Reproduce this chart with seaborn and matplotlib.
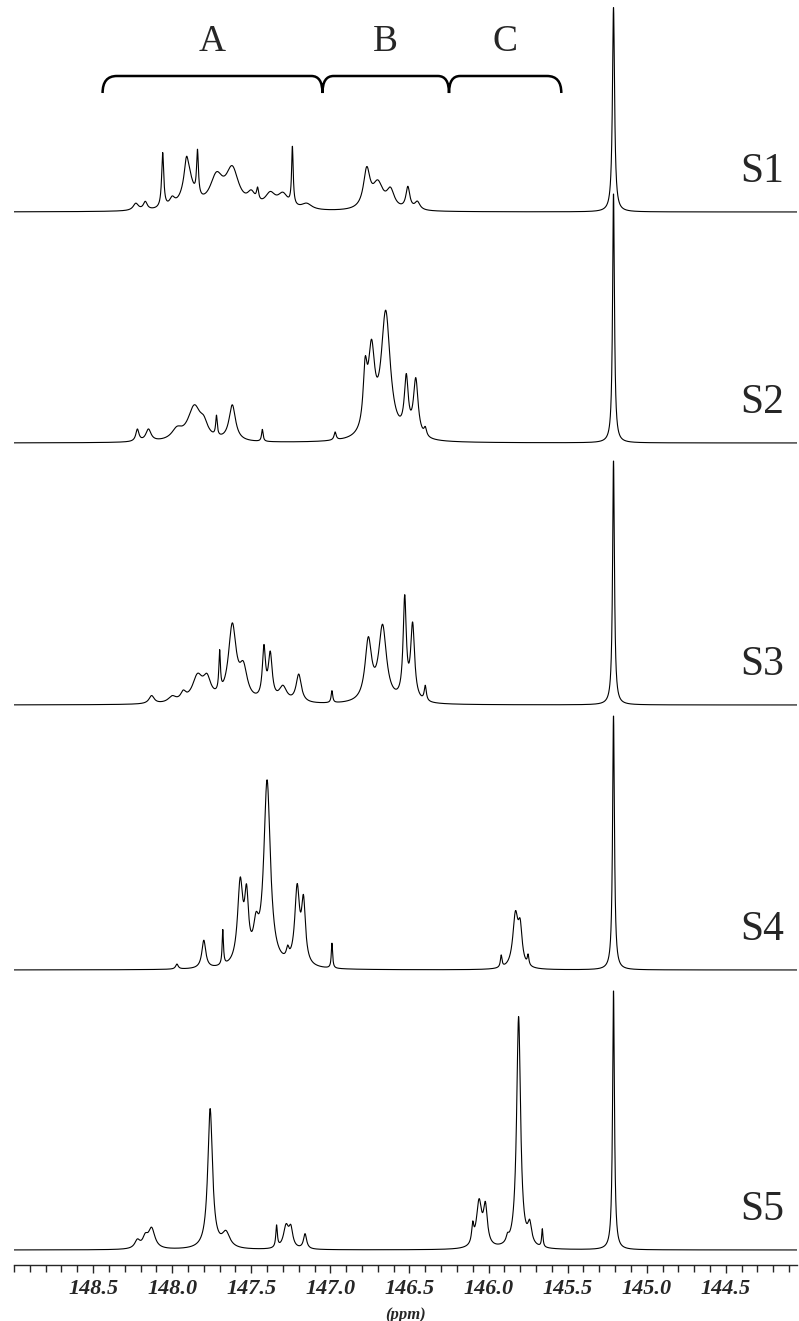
import numpy as np
import pandas as pd
import matplotlib
matplotlib.use("Agg")
import matplotlib.pyplot as plt
import seaborn as sns
from matplotlib.path import Path
from matplotlib.patches import PathPatch
from matplotlib.ticker import FixedLocator, MultipleLocator

# spectra: peaks (ppm, height in px, half width in ppm)
s1_ppm = [148.23, 148.17, 148.06, 148.00, 147.91, 147.90, 147.84, 147.72, 147.62, 147.50,
          147.46, 147.38, 147.30, 147.24, 147.15, 146.77, 146.70, 146.62, 146.51, 146.45, 145.21]
s1_h = [7, 8, 55, 8, 20, 33, 45, 30, 38, 12, 12, 14, 14, 58, 6, 38, 25, 18, 22, 8, 205]
s1_w = [0.02, 0.015, 0.008, 0.02, 0.015, 0.04, 0.007, 0.05, 0.05, 0.03,
        0.008, 0.04, 0.04, 0.006, 0.04, 0.025, 0.04, 0.03, 0.015, 0.02, 0.008]

s2_ppm = [148.22, 148.15, 147.97, 147.86, 147.80, 147.72, 147.62, 147.43, 146.97,
          146.78, 146.74, 146.65, 146.52, 146.46, 146.40, 145.21]
s2_h = [12, 12, 10, 34, 12, 20, 36, 12, 8, 55, 80, 125, 55, 57, 8, 250]
s2_w = [0.012, 0.02, 0.04, 0.05, 0.03, 0.006, 0.025, 0.006, 0.008,
        0.015, 0.025, 0.035, 0.015, 0.018, 0.01, 0.007]

s3_ppm = [148.13, 148.00, 147.93, 147.84, 147.78, 147.70, 147.62, 147.55, 147.42, 147.38,
          147.30, 147.20, 146.99, 146.76, 146.67, 146.53, 146.48, 146.40, 145.21]
s3_h = [8, 6, 8, 25, 20, 40, 75, 30, 50, 45, 15, 28, 12, 60, 75, 100, 75, 15, 245]
s3_w = [0.02, 0.03, 0.02, 0.04, 0.03, 0.006, 0.03, 0.03, 0.012, 0.015,
        0.03, 0.02, 0.006, 0.025, 0.03, 0.012, 0.015, 0.008, 0.007]

s4_ppm = [147.97, 147.80, 147.68, 147.57, 147.53, 147.47, 147.40, 147.27, 147.21, 147.17,
          146.99, 145.92, 145.83, 145.80, 145.75, 145.21]
s4_h = [5, 28, 35, 80, 60, 30, 185, 10, 75, 60, 25, 12, 52, 35, 10, 255]
s4_w = [0.01, 0.015, 0.005, 0.02, 0.015, 0.02, 0.025, 0.01, 0.018, 0.015,
        0.005, 0.006, 0.02, 0.015, 0.006, 0.007]

s5_ppm = [148.22, 148.17, 148.13, 147.76, 147.66, 147.34, 147.28, 147.25, 147.16,
          146.10, 146.06, 146.02, 145.88, 145.81, 145.74, 145.66, 145.21]
s5_h = [8, 10, 20, 140, 15, 22, 22, 18, 15, 18, 45, 38, 6, 232, 20, 18, 260]
s5_w = [0.02, 0.02, 0.025, 0.018, 0.03, 0.006, 0.02, 0.015, 0.012,
        0.008, 0.02, 0.015, 0.01, 0.015, 0.015, 0.005, 0.007]

sample_names = ["S1", "S2", "S3", "S4", "S5"]
baselines = [1053, 822, 560, 295, 15]   # px above the ppm axis

region_names = ["A", "B", "C"]
region_edges = [148.44, 147.05, 146.25, 145.54]

tick_labels = [148.5, 148.0, 147.5, 147.0, 146.5, 146.0, 145.5, 145.0, 144.5]


def spectrum(x, ppm, h, w):
    y = np.zeros_like(x)
    for p, a, g in zip(ppm, h, w):
        y += a * g**2 / ((x - p) ** 2 + g**2)
    return y


sns.set_style("ticks")
plt.rcParams["font.family"] = ["Liberation Serif", "DejaVu Serif"]

x = np.linspace(149.0, 144.05, 5000)
peaks = [(s1_ppm, s1_h, s1_w), (s2_ppm, s2_h, s2_w), (s3_ppm, s3_h, s3_w),
         (s4_ppm, s4_h, s4_w), (s5_ppm, s5_h, s5_w)]
frames = []
for name, base, (p, h, w) in zip(sample_names, baselines, peaks):
    frames.append(pd.DataFrame({"ppm": x, "y": base + spectrum(x, p, h, w), "sample": name}))
df = pd.concat(frames, ignore_index=True)

fig = plt.figure(figsize=(7.99, 13.21), dpi=100)
ax = fig.add_axes([14 / 799, 56 / 1321, 783 / 799, 1265 / 1321])
sns.lineplot(data=df, x="ppm", y="y", hue="sample", palette=["black"] * 5,
             estimator=None, sort=False, legend=False, linewidth=0.8, ax=ax)

ax.set_xlim(149.0, 144.05)
ax.set_ylim(0, 1265)
for s in ["left", "top", "right"]:
    ax.spines[s].set_visible(False)
ax.spines["bottom"].set_linewidth(1.0)
ax.set_yticks([])
ax.set_ylabel("")
ax.xaxis.set_major_locator(FixedLocator(tick_labels))
ax.xaxis.set_minor_locator(MultipleLocator(0.1))
ax.set_xticklabels([f"{t:.1f}" for t in tick_labels], fontsize=16,
                   fontstyle="italic", fontweight="bold")
ax.tick_params(axis="x", which="major", length=6, width=1, direction="out", pad=4)
ax.tick_params(axis="x", which="minor", length=5, width=1, direction="out")
ax.set_xlabel("(ppm)", fontsize=12, fontstyle="italic", fontweight="bold", labelpad=6)

for name, base in zip(sample_names, baselines):
    ax.text(144.27, base + 40, name, fontsize=30, ha="center", va="center")

# braces over the regions
y_top, y_bot = 1189, 1172
r_end, r_cusp = 0.09, 0.07
verts = [(region_edges[0], y_bot), (region_edges[0], y_top), (region_edges[0] - r_end, y_top)]
codes = [Path.MOVETO, Path.CURVE3, Path.CURVE3]
for e in region_edges[1:-1]:
    verts += [(e + r_cusp, y_top), (e, y_top), (e, y_bot), (e, y_top), (e - r_cusp, y_top)]
    codes += [Path.LINETO, Path.CURVE3, Path.CURVE3, Path.CURVE3, Path.CURVE3]
verts += [(region_edges[-1] + r_end, y_top), (region_edges[-1], y_top), (region_edges[-1], y_bot)]
codes += [Path.LINETO, Path.CURVE3, Path.CURVE3]
ax.add_patch(PathPatch(Path(verts, codes), fill=False, lw=1.8, color="black", clip_on=False))

for name, a, b in zip(region_names, region_edges[:-1], region_edges[1:]):
    ax.text((a + b) / 2, 1223, name, fontsize=27, ha="center", va="center")

fig.savefig("out.png", dpi=100)
